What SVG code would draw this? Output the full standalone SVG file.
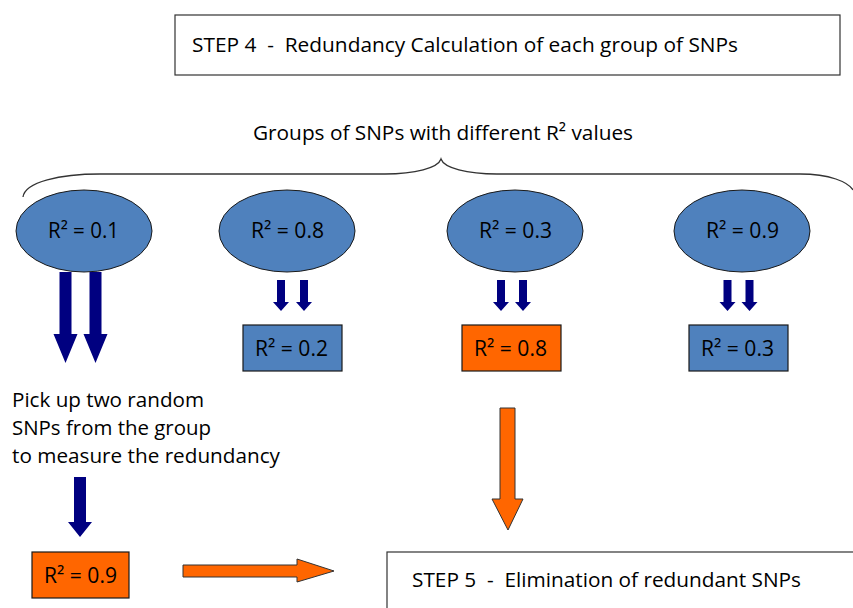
<svg xmlns="http://www.w3.org/2000/svg" width="853" height="608" viewBox="0 0 853 608">
<style>
text{font-family:"Open Sans","Liberation Sans",sans-serif;fill:#000;white-space:pre;}
.lbl{font-size:21px;}
.big{font-size:20px;}
.ell{fill:#4F81BD;stroke:#1a1a1a;stroke-width:1;}
.bbox{fill:#4F81BD;stroke:#1a1a1a;stroke-width:1.2;}
.obox{fill:#FF6600;stroke:#1a1a1a;stroke-width:1.2;}
.frame{fill:#fff;stroke:#333;stroke-width:1.2;}
.navy{fill:#000080;stroke:none;}
.oarr{fill:#FF6600;stroke:#333;stroke-width:1;}
</style>
<defs>
<path id="sa" d="M-4,0 L4,0 L4,22 L8,22 L0,31 L-8,22 L-4,22 Z"/>
<path id="ba" d="M-6,0 L6,0 L6,62 L12,62 L0,91 L-12,62 L-6,62 Z"/>
</defs>
<g id="step4">
<rect class="frame" x="175" y="15" width="665" height="60"/>
<text class="big" x="192" y="52" textLength="546" lengthAdjust="spacingAndGlyphs" xml:space="preserve">STEP 4  -  Redundancy Calculation of each group of SNPs</text>
</g>
<g id="groups-label">
<text class="big" x="253" y="140" textLength="380" lengthAdjust="spacingAndGlyphs">Groups of SNPs with different R² values</text>
<path d="M23,197 C25,182 60,174 100,174 L385,174 C415,174 438,168 441,159 C444,168 467,174 497,174 L800,174 C830,174 848,182 853,190" fill="none" stroke="#333" stroke-width="1.3"/>
</g>
<g id="g1">
<ellipse class="ell" cx="84" cy="231" rx="68" ry="41"/>
<text class="lbl" x="48" y="238" textLength="71" lengthAdjust="spacingAndGlyphs">R² = 0.1</text>
</g>
<g id="g2">
<ellipse class="ell" cx="287" cy="231" rx="68" ry="41"/>
<text class="lbl" x="251" y="238" textLength="73" lengthAdjust="spacingAndGlyphs">R² = 0.8</text>
</g>
<g id="g3">
<ellipse class="ell" cx="515" cy="231" rx="68" ry="41"/>
<text class="lbl" x="479" y="238" textLength="73" lengthAdjust="spacingAndGlyphs">R² = 0.3</text>
</g>
<g id="g4">
<ellipse class="ell" cx="742" cy="231" rx="68" ry="41"/>
<text class="lbl" x="706" y="238" textLength="73" lengthAdjust="spacingAndGlyphs">R² = 0.9</text>
</g>
<g id="b2">
<rect class="bbox" x="243" y="325" width="99" height="46"/>
<text class="lbl" x="255" y="356" textLength="73" lengthAdjust="spacingAndGlyphs">R² = 0.2</text>
</g>
<g id="b3">
<rect class="obox" x="462" y="325" width="99" height="46"/>
<text class="lbl" x="474" y="356" textLength="73" lengthAdjust="spacingAndGlyphs">R² = 0.8</text>
</g>
<g id="b4">
<rect class="bbox" x="689" y="325" width="99" height="46"/>
<text class="lbl" x="701" y="356" textLength="73" lengthAdjust="spacingAndGlyphs">R² = 0.3</text>
</g>
<g id="pick-text">
<text class="big" x="12" y="407" textLength="192" lengthAdjust="spacingAndGlyphs">Pick up two random</text>
<text class="big" x="12" y="435" textLength="199" lengthAdjust="spacingAndGlyphs">SNPs from the group</text>
<text class="big" x="12" y="463" textLength="268" lengthAdjust="spacingAndGlyphs">to measure the redundancy</text>
</g>
<g id="b1">
<rect class="obox" x="32" y="552" width="97" height="46"/>
<text class="lbl" x="44" y="583" textLength="73" lengthAdjust="spacingAndGlyphs">R² = 0.9</text>
</g>
<g id="step5">
<rect class="frame" x="387" y="552" width="480" height="70"/>
<text class="big" x="412" y="587" textLength="389" lengthAdjust="spacingAndGlyphs" xml:space="preserve">STEP 5  -  Elimination of redundant SNPs</text>
</g>
<g id="connectors">
<use href="#ba" transform="translate(65.5,272)" class="navy"/>
<use href="#ba" transform="translate(95.5,272)" class="navy"/>
<use href="#sa" transform="translate(281,280)" class="navy"/>
<use href="#sa" transform="translate(304,280)" class="navy"/>
<use href="#sa" transform="translate(501,280)" class="navy"/>
<use href="#sa" transform="translate(523,280)" class="navy"/>
<use href="#sa" transform="translate(727.5,280)" class="navy"/>
<use href="#sa" transform="translate(749.5,280)" class="navy"/>
<path class="navy" d="M74,477 L86,477 L86,522 L92,522 L80,537 L68,522 L74,522 Z"/>
<path class="oarr" d="M500,408 L515,408 L515,499 L523,499 L508,530 L492,499 L500,499 Z"/>
<path class="oarr" d="M183,565 L297,565 L297,559 L334,571 L297,582 L297,577 L183,577 Z"/>
</g>
</svg>
